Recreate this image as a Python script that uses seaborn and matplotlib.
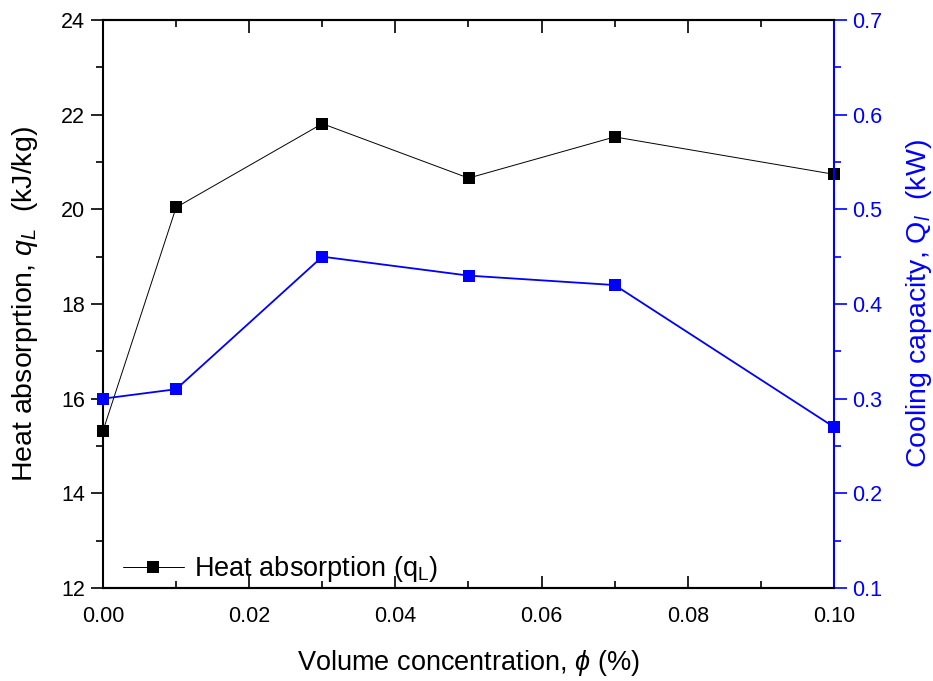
import matplotlib
matplotlib.use("Agg")
import matplotlib.pyplot as plt
import seaborn as sns
import pandas as pd
from matplotlib.ticker import MultipleLocator
from matplotlib.lines import Line2D

conc = [0.0, 0.01, 0.03, 0.05, 0.07, 0.10]
heat_absorption = [15.32, 20.04, 21.81, 20.66, 21.53, 20.74]
cooling_capacity = [0.30, 0.31, 0.45, 0.43, 0.42, 0.27]

df = pd.DataFrame({"conc": conc, "qL": heat_absorption, "Ql": cooling_capacity})

sns.set_style("ticks")
plt.rcParams["font.family"] = ["Liberation Sans", "DejaVu Sans"]
plt.rcParams["mathtext.fontset"] = "custom"
plt.rcParams["mathtext.rm"] = "Liberation Sans"
plt.rcParams["mathtext.it"] = "Liberation Sans:italic"
plt.rcParams["mathtext.bf"] = "Liberation Sans:bold"
for k in ["text.color", "axes.labelcolor", "xtick.color", "ytick.color", "axes.edgecolor"]:
    plt.rcParams[k] = "black"

fig = plt.figure(figsize=(9.33, 6.81), dpi=100)
ax = fig.add_axes([103/933, 1-588/681, (834-103)/933, (588-20)/681])
ax2 = ax.twinx()

sns.lineplot(data=df, x="conc", y="qL", ax=ax, color="black", marker="s",
             markersize=8, markeredgewidth=0, linewidth=0.7, clip_on=False, legend=False)
sns.lineplot(data=df, x="conc", y="Ql", ax=ax2, color="#0000ff", marker="s",
             markersize=8, markeredgewidth=0, linewidth=1.3, clip_on=False, legend=False)

ax.set_xlim(0, 0.10)
ax.set_ylim(12, 24)
ax2.set_ylim(0.1, 0.7)

ax.xaxis.set_major_locator(MultipleLocator(0.02))
ax.xaxis.set_minor_locator(MultipleLocator(0.01))
ax.yaxis.set_major_locator(MultipleLocator(2))
ax.yaxis.set_minor_locator(MultipleLocator(1))
ax2.yaxis.set_major_locator(MultipleLocator(0.1))
ax2.yaxis.set_minor_locator(MultipleLocator(0.05))

ax.set_xticks([0, 0.02, 0.04, 0.06, 0.08, 0.10])
ax.set_xticklabels(["0.00", "0.02", "0.04", "0.06", "0.08", "0.10"])

ax.tick_params(axis="x", which="major", direction="in", length=9, width=1.2, labelsize=15.5, pad=13, top=True)
ax.tick_params(axis="x", which="minor", direction="in", length=5, width=1.2, top=True)
ax.tick_params(axis="y", which="major", direction="out", length=9, width=1.2, labelsize=15.5, pad=4)
ax.tick_params(axis="y", which="minor", direction="out", length=5, width=1.2)
ax2.tick_params(axis="y", which="major", direction="out", length=9, width=1.2, labelsize=15.5,
                color="#0000ff", labelcolor="#0000ff", pad=4)
ax2.tick_params(axis="y", which="minor", direction="out", length=5, width=1.2, color="#0000ff")

for sp in ["left", "bottom", "top"]:
    ax.spines[sp].set_linewidth(1.5)
    ax2.spines[sp].set_linewidth(1.5)
ax2.spines["right"].set_color("#0000ff")
ax2.spines["right"].set_linewidth(1.5)
ax.spines["right"].set_visible(False)
ax2.spines["left"].set_visible(False)

ax.set_xlabel(r"Volume concentration, $\phi$ (%)", fontsize=19.5, labelpad=15)
ax.set_ylabel(r"Heat absorprtion, $q_L$  (kJ/kg)", fontsize=20.5, labelpad=15)
ax2.set_ylabel(r"Cooling capacity, Q$_{l}$  (kW)", fontsize=20.5, color="#0000ff", labelpad=16)

handle = Line2D([], [], color="black", marker="s", markersize=8, markeredgewidth=0, linewidth=0.7)
ax.legend([handle], [r"Heat absorption (q$_\mathregular{L}$)"], loc="lower left", frameon=False,
          fontsize=19.5, handlelength=2.25, handletextpad=0.37, bbox_to_anchor=(0.005, -0.022), borderaxespad=0.2)

fig.savefig("out.png", dpi=100)
